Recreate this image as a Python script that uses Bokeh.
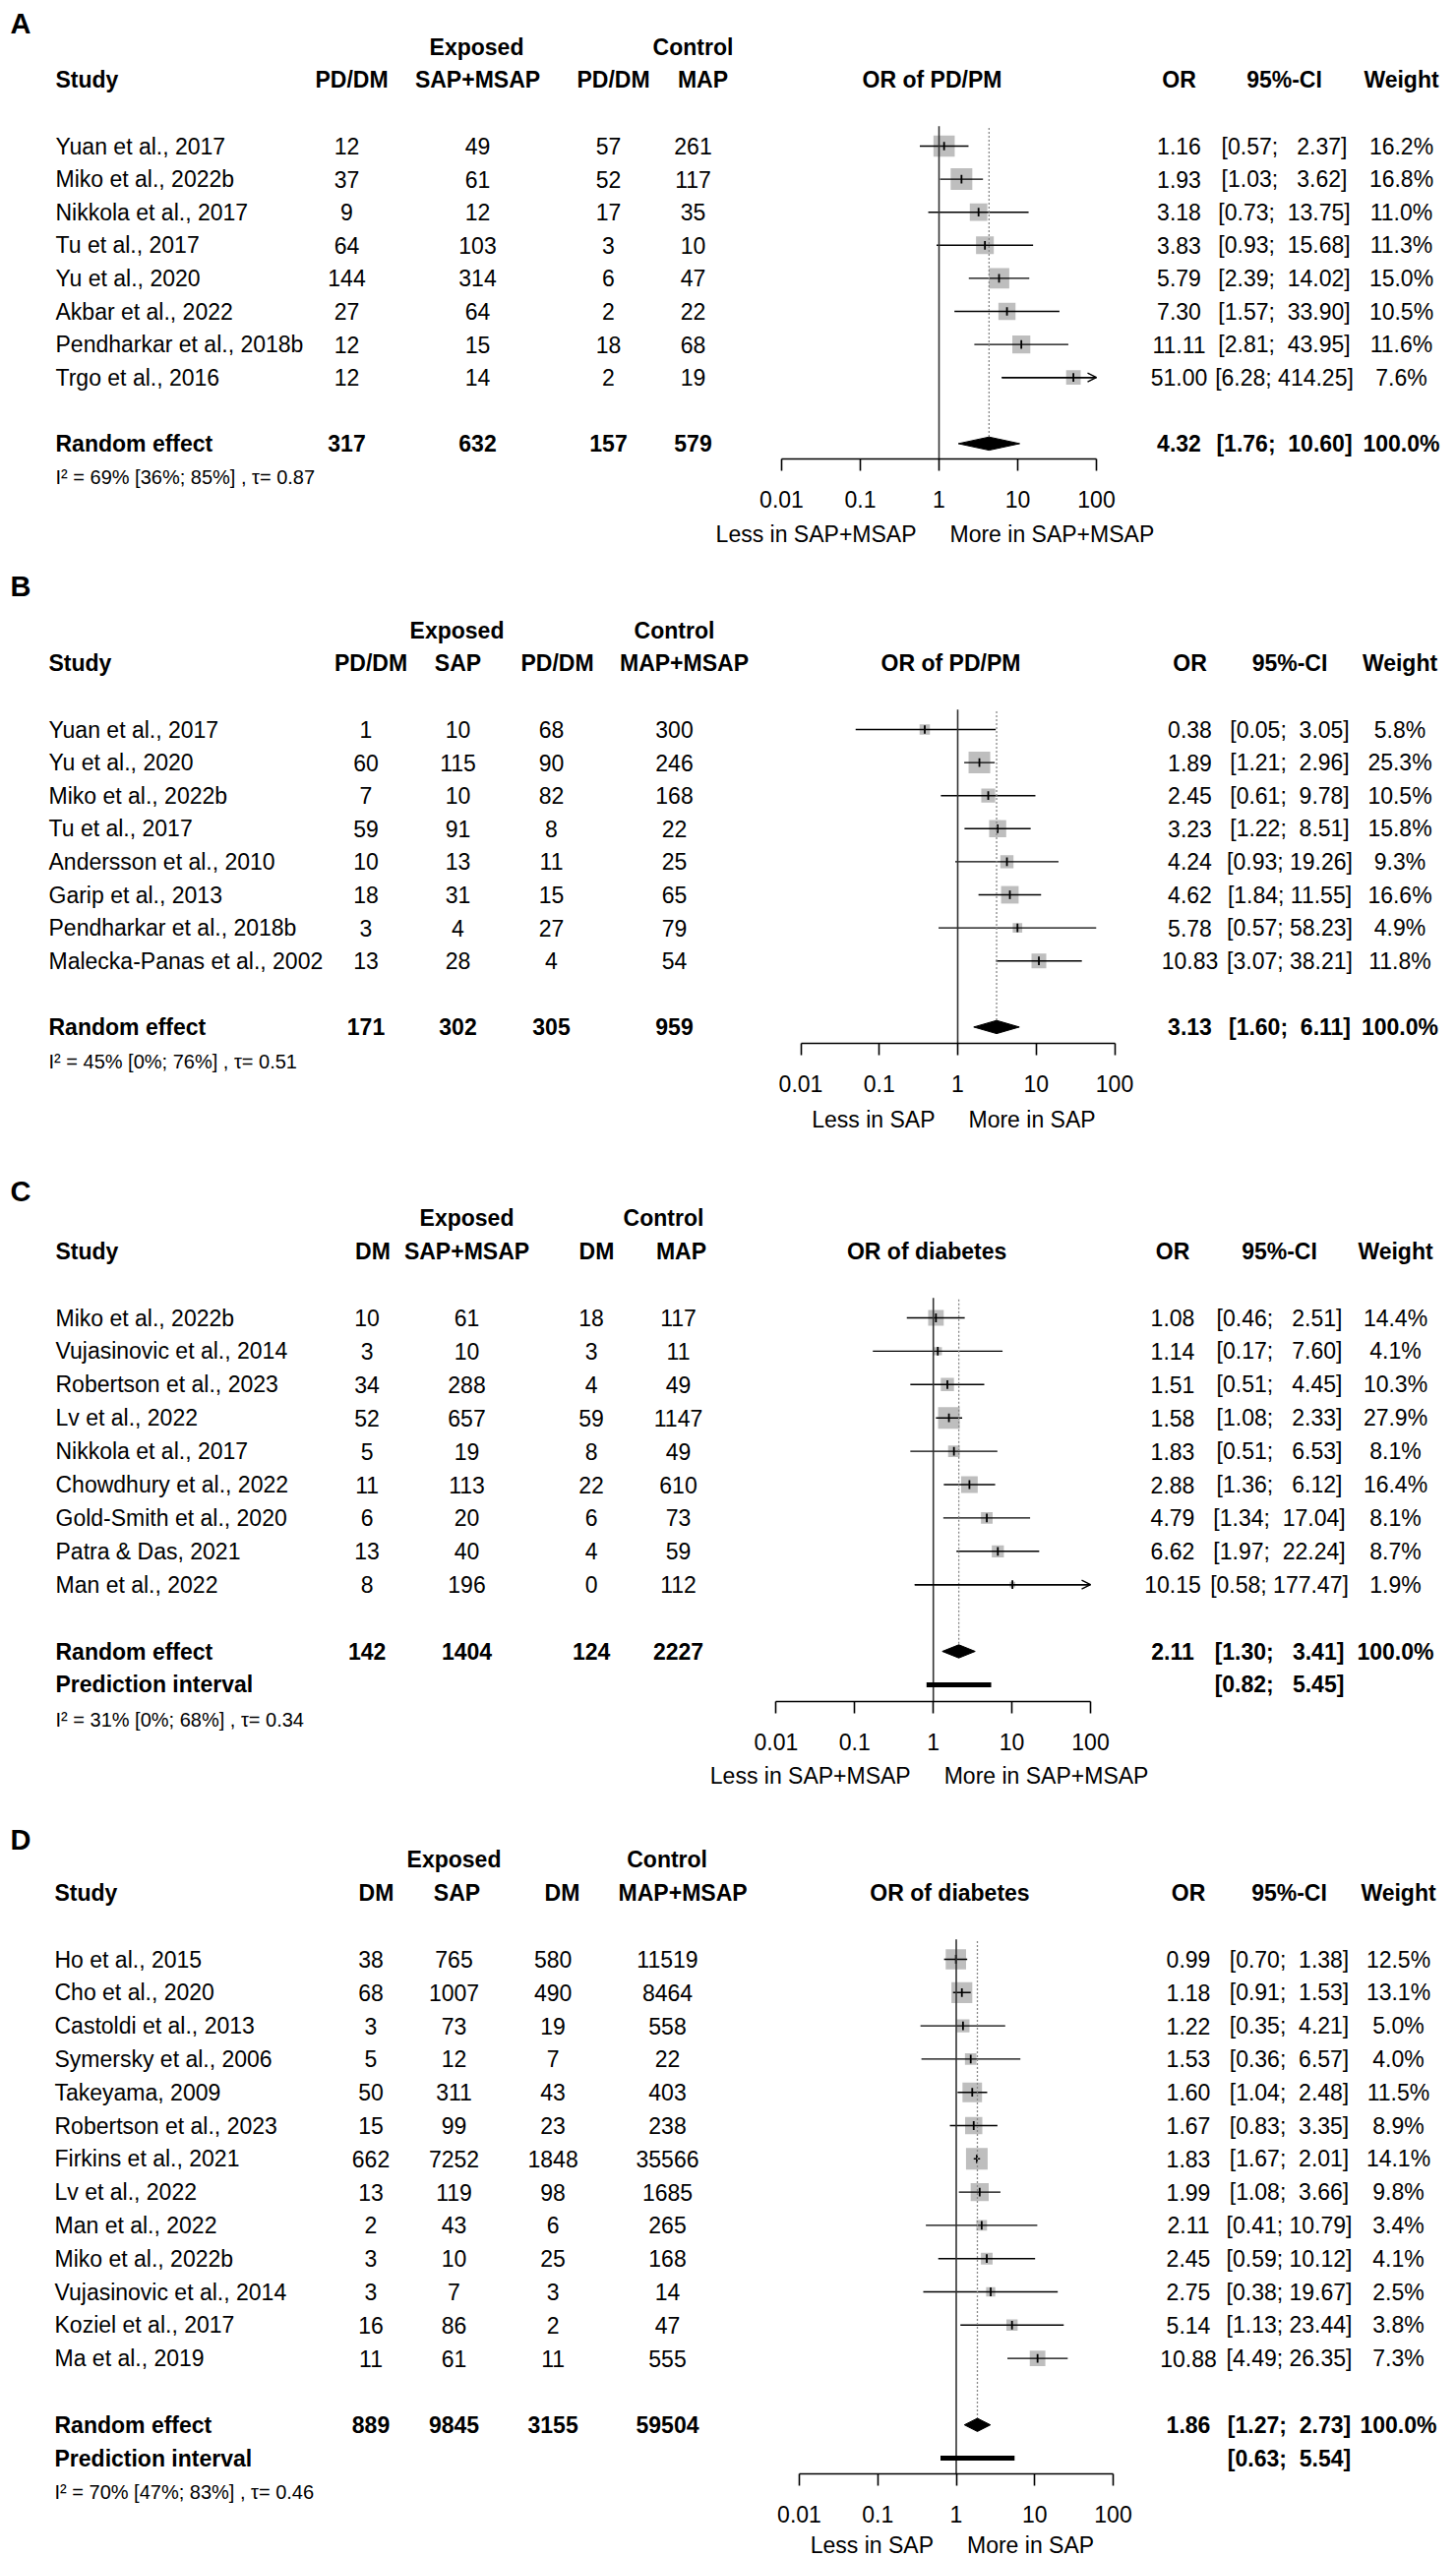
import math
from bokeh.plotting import figure
from bokeh.layouts import column, row
from bokeh.models import (Range1d, LogScale, LogAxis, FixedTicker, CustomJSTickFormatter,
                          Arrow, OpenHead, ColumnDataSource, Title)
from bokeh.core.properties import value
from bokeh.embed import file_html
from bokeh.resources import INLINE

FONT = "Liberation Sans"
NB = "\u00a0"

# ------------------------------------------------------------------ data
# Panel A
A_letter = "A"
A_studies = ["Yuan et al., 2017", "Miko et al., 2022b", "Nikkola et al., 2017", "Tu et al., 2017",
             "Yu et al., 2020", "Akbar et al., 2022", "Pendharkar et al., 2018b", "Trgo et al., 2016"]
A_exp_events = [12, 37, 9, 64, 144, 27, 12, 12]
A_exp_total = [49, 61, 12, 103, 314, 64, 15, 14]
A_ctl_events = [57, 52, 17, 3, 6, 2, 18, 2]
A_ctl_total = [261, 117, 35, 10, 47, 22, 68, 19]
A_or = [1.16, 1.93, 3.18, 3.83, 5.79, 7.30, 11.11, 51.00]
A_lo = [0.57, 1.03, 0.73, 0.93, 2.39, 1.57, 2.81, 6.28]
A_hi = [2.37, 3.62, 13.75, 15.68, 14.02, 33.90, 43.95, 414.25]
A_w = [16.2, 16.8, 11.0, 11.3, 15.0, 10.5, 11.6, 7.6]
A_pooled = [4.32, 1.76, 10.60]
A_totals = [317, 632, 157, 579]
A_pi = None
A_het = ["69%", "36%", "85%", "0.87"]
A_cols = ["PD/DM", "SAP+MSAP", "PD/DM", "MAP"]
A_title = "OR of PD/PM"
A_less, A_more = "Less in SAP+MSAP", "More in SAP+MSAP"

# Panel B
B_letter = "B"
B_studies = ["Yuan et al., 2017", "Yu et al., 2020", "Miko et al., 2022b", "Tu et al., 2017",
             "Andersson et al., 2010", "Garip et al., 2013", "Pendharkar et al., 2018b",
             "Malecka-Panas et al., 2002"]
B_exp_events = [1, 60, 7, 59, 10, 18, 3, 13]
B_exp_total = [10, 115, 10, 91, 13, 31, 4, 28]
B_ctl_events = [68, 90, 82, 8, 11, 15, 27, 4]
B_ctl_total = [300, 246, 168, 22, 25, 65, 79, 54]
B_or = [0.38, 1.89, 2.45, 3.23, 4.24, 4.62, 5.78, 10.83]
B_lo = [0.05, 1.21, 0.61, 1.22, 0.93, 1.84, 0.57, 3.07]
B_hi = [3.05, 2.96, 9.78, 8.51, 19.26, 11.55, 58.23, 38.21]
B_w = [5.8, 25.3, 10.5, 15.8, 9.3, 16.6, 4.9, 11.8]
B_pooled = [3.13, 1.60, 6.11]
B_totals = [171, 302, 305, 959]
B_pi = None
B_het = ["45%", "0%", "76%", "0.51"]
B_cols = ["PD/DM", "SAP", "PD/DM", "MAP+MSAP"]
B_title = "OR of PD/PM"
B_less, B_more = "Less in SAP", "More in SAP"

# Panel C
C_letter = "C"
C_studies = ["Miko et al., 2022b", "Vujasinovic et al., 2014", "Robertson et al., 2023", "Lv et al., 2022",
             "Nikkola et al., 2017", "Chowdhury et al., 2022", "Gold-Smith et al., 2020",
             "Patra & Das, 2021", "Man et al., 2022"]
C_exp_events = [10, 3, 34, 52, 5, 11, 6, 13, 8]
C_exp_total = [61, 10, 288, 657, 19, 113, 20, 40, 196]
C_ctl_events = [18, 3, 4, 59, 8, 22, 6, 4, 0]
C_ctl_total = [117, 11, 49, 1147, 49, 610, 73, 59, 112]
C_or = [1.08, 1.14, 1.51, 1.58, 1.83, 2.88, 4.79, 6.62, 10.15]
C_lo = [0.46, 0.17, 0.51, 1.08, 0.51, 1.36, 1.34, 1.97, 0.58]
C_hi = [2.51, 7.60, 4.45, 2.33, 6.53, 6.12, 17.04, 22.24, 177.47]
C_w = [14.4, 4.1, 10.3, 27.9, 8.1, 16.4, 8.1, 8.7, 1.9]
C_pooled = [2.11, 1.30, 3.41]
C_totals = [142, 1404, 124, 2227]
C_pi = [0.82, 5.45]
C_het = ["31%", "0%", "68%", "0.34"]
C_cols = ["DM", "SAP+MSAP", "DM", "MAP"]
C_title = "OR of diabetes"
C_less, C_more = "Less in SAP+MSAP", "More in SAP+MSAP"

# Panel D
D_letter = "D"
D_studies = ["Ho et al., 2015", "Cho et al., 2020", "Castoldi et al., 2013", "Symersky et al., 2006",
             "Takeyama, 2009", "Robertson et al., 2023", "Firkins et al., 2021", "Lv et al., 2022",
             "Man et al., 2022", "Miko et al., 2022b", "Vujasinovic et al., 2014", "Koziel et al., 2017",
             "Ma et al., 2019"]
D_exp_events = [38, 68, 3, 5, 50, 15, 662, 13, 2, 3, 3, 16, 11]
D_exp_total = [765, 1007, 73, 12, 311, 99, 7252, 119, 43, 10, 7, 86, 61]
D_ctl_events = [580, 490, 19, 7, 43, 23, 1848, 98, 6, 25, 3, 2, 11]
D_ctl_total = [11519, 8464, 558, 22, 403, 238, 35566, 1685, 265, 168, 14, 47, 555]
D_or = [0.99, 1.18, 1.22, 1.53, 1.60, 1.67, 1.83, 1.99, 2.11, 2.45, 2.75, 5.14, 10.88]
D_lo = [0.70, 0.91, 0.35, 0.36, 1.04, 0.83, 1.67, 1.08, 0.41, 0.59, 0.38, 1.13, 4.49]
D_hi = [1.38, 1.53, 4.21, 6.57, 2.48, 3.35, 2.01, 3.66, 10.79, 10.12, 19.67, 23.44, 26.35]
D_w = [12.5, 13.1, 5.0, 4.0, 11.5, 8.9, 14.1, 9.8, 3.4, 4.1, 2.5, 3.8, 7.3]
D_pooled = [1.86, 1.27, 2.73]
D_totals = [889, 9845, 3155, 59504]
D_pi = [0.63, 5.54]
D_het = ["70%", "47%", "83%", "0.46"]
D_cols = ["DM", "SAP", "DM", "MAP+MSAP"]
D_title = "OR of diabetes"
D_less, D_more = "Less in SAP", "More in SAP"

axis_ticks = [0.01, 0.1, 1, 10, 100]

# ------------------------------------------------------------------ layout (page pixels)
SPLIT = 766
XMAX = 1472
LAYOUT = {
    "A": dict(top=0, mid=526, bottom=570, axis_y=466, y0=148, s=33.6, p0=794, p1=1114,
              lx=10, ly=23, study_x=56, val_x=[352, 485, 618, 704], hdr_x=[357, 485, 623, 714],
              exp_x=484, ctl_x=704, fh_x=947, right_x=[1198, 1305, 1424], less_y=542),
    "B": dict(top=570, mid=1120, bottom=1190, axis_y=1060, y0=741, s=33.6, p0=813.5, p1=1132.5,
              lx=10, ly=595, study_x=49, val_x=[371.5, 465, 560, 685], hdr_x=[376.5, 465, 566, 695],
              exp_x=464, ctl_x=685, fh_x=966, right_x=[1209, 1310.5, 1422.5], less_y=1137),
    "C": dict(top=1190, mid=1787, bottom=1850, axis_y=1729, y0=1339, s=33.9, p0=788.4, p1=1108,
              lx=10, ly=1210, study_x=56, val_x=[372.6, 474, 600.6, 689], hdr_x=[378.5, 474, 606, 692],
              exp_x=474, ctl_x=674, fh_x=941.6, right_x=[1191.5, 1300, 1418], less_y=1804),
    "D": dict(top=1850, mid=2570, bottom=2598, axis_y=2514, y0=1991, s=33.8, p0=812, p1=1131,
              lx=10, ly=1869, study_x=55, val_x=[376.5, 461, 561.6, 678], hdr_x=[382, 464, 571, 693.6],
              exp_x=461, ctl_x=677.6, fh_x=965, right_x=[1207.5, 1310, 1421], less_y=2586),
}

PANELS = {}
for _k, _g in [("A", "A_"), ("B", "B_"), ("C", "C_"), ("D", "D_")]:
    _ns = globals()
    PANELS[_k] = dict(letter=_ns[_g + "letter"], studies=_ns[_g + "studies"], ee=_ns[_g + "exp_events"],
                      et=_ns[_g + "exp_total"], ce=_ns[_g + "ctl_events"], ct=_ns[_g + "ctl_total"],
                      orv=_ns[_g + "or"], lo=_ns[_g + "lo"], hi=_ns[_g + "hi"], w=_ns[_g + "w"],
                      pooled=_ns[_g + "pooled"], totals=_ns[_g + "totals"], pi=_ns[_g + "pi"],
                      het=_ns[_g + "het"], cols=_ns[_g + "cols"], title=_ns[_g + "title"],
                      less=_ns[_g + "less"], more=_ns[_g + "more"])


def ci_formatter(los, his):
    Ll = max(len("%.2f" % v) for v in los)
    Lh = max(len("%.2f" % v) for v in his)

    def fmt(l, h):
        ls = "%.2f" % l
        hs = "%.2f" % h
        return "[" + NB * (Ll - len(ls)) + ls + ";" + NB * (1 + Lh - len(hs)) + hs + "]"
    return fmt


def base_fig(width, height, xr, yr_, border_bottom=0):
    return figure(width=width, height=height, x_range=xr, y_range=yr_, x_axis_type=None,
                  y_axis_type=None, output_backend="svg", toolbar_location=None, min_border=0,
                  min_border_bottom=border_bottom, outline_line_color=None,
                  background_fill_color="white", border_fill_color="white")


def txt(p, xs, ys, texts, align="left", bold=False, size="23px", xr=None, italic=False, x_offset=0):
    src = ColumnDataSource(dict(x=list(xs), y=list(ys), text=list(texts)))
    kw = {"x_range_name": xr} if xr else {}
    style = "italic" if italic else ("bold" if bold else "normal")
    p.text(x="x", y="y", text="text", source=src, text_font=value(FONT),
           text_font_size=value(size), text_align=align, text_baseline="middle",
           text_font_style=style, text_color="black", x_offset=x_offset, **kw)


def build(d, c):
    top, mid, bottom, axis_y, y0, s = c["top"], c["mid"], c["bottom"], c["axis_y"], c["y0"], c["s"]
    n = len(d["studies"])
    row_re = n + 1
    has_pi = d["pi"] is not None
    row_pi = n + 2

    def yr(img):
        return (img - y0) / s

    dec = (c["p1"] - c["p0"]) / 4.0

    def or_range(xa, xb):
        a = -2 - (c["p0"] - xa) / dec
        b = 2 + (xb - c["p1"]) / dec
        return Range1d(10 ** a, 10 ** b)

    # ---------------- left: study table (frame aligned with the forest frame)
    L = base_fig(SPLIT, mid - top, Range1d(0, SPLIT), Range1d(yr(axis_y), yr(top)),
                 border_bottom=mid - axis_y)
    txt(L, [c["lx"]], [yr(c["ly"])], [d["letter"]], bold=True, size="29px")
    txt(L, [c["exp_x"], c["ctl_x"]], [-3, -3], ["Exposed", "Control"], align="center", bold=True)
    txt(L, [c["study_x"]], [-2], ["Study"], bold=True)
    txt(L, c["hdr_x"], [-2] * 4, d["cols"], align="center", bold=True)
    rows = list(range(n))
    txt(L, [c["study_x"]] * n, rows, d["studies"])
    for j, col in enumerate([d["ee"], d["et"], d["ce"], d["ct"]]):
        txt(L, [c["val_x"][j]] * n, rows, [str(v) for v in col], align="center")
    txt(L, [c["study_x"]], [row_re], ["Random effect"], bold=True)
    txt(L, c["val_x"], [row_re] * 4, [str(v) for v in d["totals"]], align="center", bold=True)
    if has_pi:
        txt(L, [c["study_x"]], [row_pi], ["Prediction interval"], bold=True)
    het = d["het"]
    L.add_layout(Title(text="I\u00b2 = %s [%s; %s] , \u03c4= %s" % tuple(het), align="left",
                       offset=c["study_x"], vertical_align="top", standoff=14, text_font=FONT,
                       text_font_size="20px", text_font_style="normal", text_color="black"),
                 "below")

    # ---------------- right: forest + effect table
    R = base_fig(XMAX - SPLIT, mid - top, Range1d(SPLIT, XMAX), Range1d(yr(axis_y), yr(top)),
                 border_bottom=mid - axis_y)
    R.extra_x_ranges = {"or": or_range(SPLIT, XMAX)}
    R.extra_x_scales = {"or": LogScale()}

    rx = c["right_x"]
    txt(R, [c["fh_x"]], [-2], [d["title"]], align="center", bold=True)
    txt(R, rx, [-2] * 3, ["OR", "95%-CI", "Weight"], align="center", bold=True)
    all_hi = list(d["hi"]) + [d["pooled"][2]] + ([d["pi"][1]] if has_pi else [])
    all_lo = list(d["lo"]) + [d["pooled"][1]] + ([d["pi"][0]] if has_pi else [])
    fmt = ci_formatter(all_lo, all_hi)
    txt(R, [rx[0]] * n, rows, ["%.2f" % v for v in d["orv"]], align="center")
    txt(R, [rx[1]] * n, rows, [fmt(l, h) for l, h in zip(d["lo"], d["hi"])], align="center")
    txt(R, [rx[2]] * n, rows, ["%.1f%%" % v for v in d["w"]], align="center")
    pe, plo, phi = d["pooled"]
    txt(R, rx, [row_re] * 3, ["%.2f" % pe, fmt(plo, phi), "100.0%"], align="center", bold=True)
    if has_pi:
        txt(R, [rx[1]], [row_pi], [fmt(d["pi"][0], d["pi"][1])], align="center", bold=True)

    xmax = axis_ticks[-1]
    wmax = max(d["w"])
    sides = [22.0 * math.sqrt(w / wmax) for w in d["w"]]
    R.scatter(x=d["orv"], y=rows, size=sides, marker="square", fill_color="#bebebe",
              line_color=None, x_range_name="or")
    hi_clip = [min(h, xmax) for h in d["hi"]]
    R.segment(x0=d["lo"], x1=hi_clip, y0=rows, y1=rows, line_color="black", line_width=1.4,
              x_range_name="or")
    for l, h, r in zip(d["lo"], d["hi"], rows):
        if h > xmax:
            R.add_layout(Arrow(end=OpenHead(size=9, line_width=1.4, line_color="black"),
                               x_start=l, x_end=xmax, y_start=r, y_end=r, line_width=1.4,
                               line_color="black", x_range_name="or"))
    R.segment(x0=d["orv"], x1=d["orv"], y0=[r - 0.13 for r in rows], y1=[r + 0.13 for r in rows],
              line_color="black", line_width=1.8, x_range_name="or")

    R.segment(x0=[1], x1=[1], y0=[-0.6], y1=[yr(axis_y)], line_color="#333333", line_width=1.6,
              x_range_name="or")
    h = 6.7 / s
    R.segment(x0=[pe], x1=[pe], y0=[-0.55], y1=[row_re - h], line_color="#888888", line_width=1.3,
              line_dash="2 2", x_range_name="or")
    R.patches(xs=[[plo, pe, phi, pe]], ys=[[row_re, row_re - h, row_re, row_re + h]],
              fill_color="black", line_color="black", line_width=1, x_range_name="or")
    if has_pi:
        R.segment(x0=[d["pi"][0]], x1=[d["pi"][1]], y0=[row_pi], y1=[row_pi], line_color="black",
                  line_width=5, x_range_name="or")

    ax = LogAxis(x_range_name="or", bounds=(axis_ticks[0], axis_ticks[-1]),
                 ticker=FixedTicker(ticks=axis_ticks, minor_ticks=[]),
                 formatter=CustomJSTickFormatter(code="return String(tick);"))
    ax.axis_line_width = 1.6
    ax.axis_line_color = "black"
    ax.major_tick_line_width = 1.6
    ax.major_tick_line_color = "black"
    ax.major_tick_out = 12
    ax.major_tick_in = 0
    ax.minor_tick_line_color = None
    ax.major_label_text_font = FONT
    ax.major_label_text_font_size = "23px"
    ax.major_label_text_color = "black"
    ax.major_label_standoff = 20
    R.add_layout(ax, "below")

    # ---------------- bottom strip: direction labels
    S = base_fig(XMAX, bottom - mid, Range1d(0, XMAX), Range1d(bottom, mid))
    S.extra_x_ranges = {"or": or_range(0, XMAX)}
    S.extra_x_scales = {"or": LogScale()}
    txt(S, [1], [c["less_y"]], [d["less"]], align="right", xr="or", x_offset=-23)
    txt(S, [1], [c["less_y"]], [d["more"]], align="left", xr="or", x_offset=11)

    return column(row(L, R, spacing=0), S, spacing=0)


blocks = [build(PANELS[k], LAYOUT[k]) for k in ["A", "B", "C", "D"]]
page = column(*blocks, spacing=0)
open("out.html", "w").write(file_html(page, INLINE))
